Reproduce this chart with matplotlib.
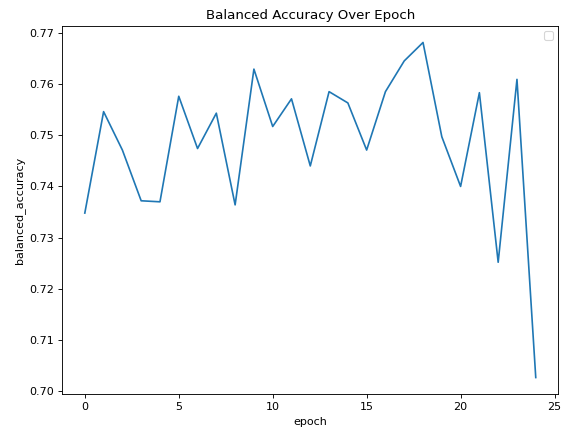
import matplotlib
matplotlib.use('Agg')
from matplotlib import pyplot as plt

# valeurs
epoch = list(range(25))
balanced_accuracy = [0.7348, 0.7546, 0.7471, 0.7372, 0.7370, 0.7576, 0.7474,
                     0.7543, 0.7364, 0.7629, 0.7517, 0.7571, 0.7440, 0.7585,
                     0.7563, 0.7471, 0.7585, 0.7645, 0.7681, 0.7497, 0.7400,
                     0.7583, 0.7252, 0.7609, 0.7027]

fig = plt.figure(figsize=(566 / 80, 433 / 80), dpi=80)
plt.subplots_adjust(left=0.110, right=0.9864, top=0.9406, bottom=0.0894)
plt.plot(epoch, balanced_accuracy)
plt.title('Balanced Accuracy Over Epoch')
plt.xlabel('epoch')
plt.ylabel('balanced_accuracy')
plt.legend()
plt.savefig('out.png', dpi=80)
